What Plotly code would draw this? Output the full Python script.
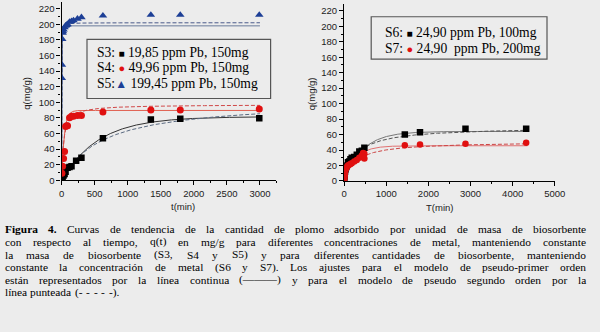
import numpy as np
import plotly.graph_objects as go

# ---------------- data ----------------
# Left panel: q(mg/g) vs t(min)
S3_t = [5, 15, 30, 45, 60, 90, 120, 150, 220, 300, 625, 1350, 1795, 2990]
S3_q = [1, 3, 6, 8, 11, 16, 17, 18, 25, 29, 54, 78, 79, 79.5]
S4_t = [5, 15, 30, 45, 60, 75, 90, 120, 150, 180, 240, 300, 625, 1350, 1795, 2990]
S4_q = [9, 18, 28, 37, 69, 70, 70, 80, 82, 82, 83, 83, 87.5, 90, 90, 91.5]
S5_t = [3, 5, 10, 15, 20, 30, 45, 60, 75, 90, 120, 150, 180, 240, 300, 625, 1350, 1795, 2990]
S5_q = [131, 148, 181, 189, 191, 193, 196, 198, 199, 200, 203, 204, 205, 207, 209, 211, 212, 212, 212]

# Right panel: q(mg/g) vs T(min)
S6_t = [5, 10, 15, 20, 30, 45, 60, 90, 120, 150, 180, 240, 300, 360, 420, 480, 1440, 1800, 2880, 4320]
S6_q = [3, 6, 9, 12, 15, 18, 20, 24, 25, 28, 30, 31, 34, 38, 39, 43, 60, 63, 67.5, 67.5]
S7_t = [5, 10, 15, 20, 30, 45, 60, 90, 120, 150, 180, 240, 300, 360, 420, 450, 480, 480, 1440, 1800, 2880, 4320]
S7_q = [2, 5, 8, 11, 14, 16, 18, 20, 21, 22, 23, 25, 27, 30, 33, 36, 35, 29, 46, 47, 48, 49.3]

# Kinetic fit parameters: [qe_pfo, k1, qe_pso, k2]
S3_fit = [81.5, 0.0018, 103, 1.56e-5]
S4_fit = [89.5, 0.025, 97, 3.4e-4]
S5_fit = [198, 0.3, 202, 0.0078]
S6_fit = [64, 0.00227, 70, 4.77e-5]
S7_fit = [45.5, 0.00375, 51, 7.25e-5]

left_x_ticks = [0, 500, 1000, 1500, 2000, 2500, 3000]
right_x_ticks = [0, 1000, 2000, 3000, 4000, 5000]
y_ticks = list(range(0, 221, 20))

legend_left = ["S3: ", "19,85 ppm Pb, 150mg", "S4: ", "49,96 ppm Pb, 150mg", "S5:", "199,45 ppm Pb, 150mg"]
legend_right = ["S6: ", "24,90 ppm Pb, 100mg", "S7: ", "24,90\u00a0 ppm Pb, 200mg"]

caption_lines = [
    "Figura 4. Curvas de tendencia de la cantidad de plomo adsorbido por unidad de masa de biosorbente",
    "con respecto al tiempo, q(t) en mg/g para diferentes concentraciones de metal, manteniendo constante",
    "la masa de biosorbente (S3, S4 y S5) y para diferentes cantidades de biosorbente, manteniendo",
    "constante la concentración de metal (S6 y S7). Los ajustes para el modelo de pseudo-primer orden",
    "están representados por la línea continua (———) y para el modelo de pseudo segundo orden por la",
    "línea punteada (- - - - -).",
]

# ---------------- helpers ----------------
def pfo(t, qe, k):
    return qe * (1 - np.exp(-k * t))

def pso(t, qe, k):
    return qe * qe * k * t / (1 + qe * k * t)

W, H = 600, 332
BG = "rgb(236,236,236)"

def px(x):
    return x / W

def py(y):
    return 1 - y / H

fig = go.Figure()

def add_fits(params, tmax, xa, ya, c_solid, c_dash):
    t = np.concatenate([np.linspace(0, 60, 300), np.linspace(60, tmax, 500)])
    fig.add_trace(go.Scatter(x=t, y=pfo(t, params[0], params[1]), mode="lines",
                             line=dict(color=c_solid, width=1), xaxis=xa, yaxis=ya,
                             showlegend=False, hoverinfo="skip"))
    fig.add_trace(go.Scatter(x=t, y=pso(t, params[2], params[3]), mode="lines",
                             line=dict(color=c_dash, width=1, dash="4px,2px"), xaxis=xa, yaxis=ya,
                             showlegend=False, hoverinfo="skip"))

BLACK = "#000000"
RED = "#e01010"
BLUE = "#1d3f96"

add_fits(S3_fit, 3000, "x", "y", "#333333", "#5a6a80")
add_fits(S4_fit, 3000, "x", "y", "#e06050", "#d04848")
add_fits(S5_fit, 3000, "x", "y", "#6a7a9a", "#4a5a8a")
add_fits(S6_fit, 4350, "x2", "y2", "#777777", "#555555")
add_fits(S7_fit, 4350, "x2", "y2", "#e07070", "#cc4444")

def add_pts(t, q, xa, ya, color, symbol, size):
    fig.add_trace(go.Scatter(x=t, y=q, mode="markers", xaxis=xa, yaxis=ya,
                             marker=dict(color=color, symbol=symbol, size=size, line=dict(width=0)),
                             showlegend=False))

add_pts(S3_t, S3_q, "x", "y", BLACK, "square", 6.5)
add_pts(S4_t, S4_q, "x", "y", RED, "circle", 7)
add_pts(S5_t, S5_q, "x", "y", BLUE, "triangle-up", 7.5)
add_pts(S6_t, S6_q, "x2", "y2", BLACK, "square", 6.5)
add_pts(S7_t, S7_q, "x2", "y2", RED, "circle", 6.5)

tickfont = dict(family="Liberation Sans, Arial, sans-serif", size=9.5, color="#222222")

def axis(domain, rng, minor_dtick, tickvals):
    return dict(domain=domain, range=rng, showline=True, linecolor="black", linewidth=1.3,
                ticks="outside", ticklen=4, tickwidth=1.2, tickcolor="black",
                tickvals=tickvals, ticktext=[str(v) for v in tickvals],
                minor=dict(dtick=minor_dtick, tick0=0, ticks="outside", ticklen=2, tickwidth=1, tickcolor="black"),
                showgrid=False, zeroline=False, tickfont=tickfont, fixedrange=True)

fig.update_layout(
    width=W, height=H, autosize=False,
    margin=dict(l=0, r=0, t=0, b=0),
    paper_bgcolor=BG, plot_bgcolor=BG,
    xaxis=dict(**axis([px(60), px(280)], [0, 3250], 250, left_x_ticks), anchor="y"),
    yaxis=dict(**axis([py(183), py(1.7)], [0, 229], 10, y_ticks), anchor="x"),
    xaxis2=dict(**axis([px(349.3), px(565)], [0, 5000], 500, right_x_ticks), anchor="y2"),
    yaxis2=dict(**axis([py(183.7), py(3.9)], [0, 229], 10, y_ticks), anchor="x2"),
)

ann = []
titlefont = dict(family="Liberation Sans, Arial, sans-serif", size=9.5, color="#222222")
ann.append(dict(text="q(mg/g)", x=px(16), y=py(95), textangle=-90, font=titlefont))
ann.append(dict(text="q(mg/g)", x=px(316), y=py(95), textangle=-90, font=titlefont))
ann.append(dict(text="t(min)", x=px(170), y=py(210), font=titlefont))
ann.append(dict(text="T(min)", x=px(463), y=py(211), font=titlefont))

# legend boxes
shapes = [
    dict(type="rect", xref="paper", yref="paper", x0=px(86), x1=px(274), y0=py(100), y1=py(40),
         line=dict(color="#555555", width=1.2), fillcolor=BG, layer="above"),
    dict(type="rect", xref="paper", yref="paper", x0=px(377), x1=px(557), y0=py(60), y1=py(17),
         line=dict(color="#555555", width=1.2), fillcolor=BG, layer="above"),
]
SERIF = "Liberation Serif, Times New Roman, serif"
legfont = dict(family=SERIF, size=13.6, color="black")

def sym(ch, color, size):
    return f"<span style='color:{color};font-size:{size}px'>{ch}</span>"

left_syms = [sym("■", BLACK, 10), sym("●", RED, 11), sym("▲", BLUE, 12)]
for i, yy in enumerate([52.8, 69.0, 84.8]):
    ann.append(dict(text=legend_left[2 * i] + left_syms[i] + " " + legend_left[2 * i + 1],
                    x=px(96), y=py(yy), xanchor="left", font=legfont, borderpad=0, borderwidth=0))
right_syms = [sym("■", BLACK, 10), sym("●", RED, 11)]
for i, yy in enumerate([32.5, 49.0]):
    ann.append(dict(text=legend_right[2 * i] + right_syms[i] + " " + legend_right[2 * i + 1],
                    x=px(391), y=py(yy), xanchor="left", font=legfont, borderpad=0, borderwidth=0))

# ---------------- justified caption (word by word) ----------------
reg = {' ': 250, '(': 333, ')': 333, ',': 250, '-': 333, '.': 250, '/': 278, ':': 278, '—': 1000,
       'A': 722, 'B': 667, 'C': 667, 'D': 722, 'E': 611, 'F': 556, 'G': 722, 'H': 722, 'I': 333, 'J': 389,
       'K': 722, 'L': 611, 'M': 889, 'N': 722, 'O': 722, 'P': 556, 'Q': 722, 'R': 667, 'S': 556, 'T': 611,
       'U': 722, 'V': 722, 'W': 944, 'X': 722, 'Y': 722, 'Z': 611,
       'a': 444, 'b': 500, 'c': 444, 'd': 500, 'e': 444, 'f': 333, 'g': 500, 'h': 500, 'i': 278, 'j': 278,
       'k': 500, 'l': 278, 'm': 778, 'n': 500, 'o': 500, 'p': 500, 'q': 500, 'r': 333, 's': 389, 't': 278,
       'u': 500, 'v': 500, 'w': 722, 'x': 500, 'y': 500, 'z': 444,
       'á': 444, 'é': 444, 'í': 278, 'ó': 500, 'ú': 500, 'ñ': 500}
for d in "0123456789":
    reg[d] = 500
bold = dict(reg)
bold.update({'F': 611, 'i': 278, 'g': 500, 'u': 556, 'r': 444, 'a': 500, '4': 500, '.': 250})

cap_fs = 11.4
capfont = dict(family=SERIF, size=cap_fs, color="black")
X0, X1 = 1.7, 597.0
line_y = [233.0, 245.7, 258.4, 271.1, 283.8, 296.5]

def wwidth(word, table):
    return sum(table.get(c, 500) for c in word) / 1000.0 * cap_fs * 1.02

for li, line in enumerate(caption_lines):
    words = line.split(" ")
    isbold = [li == 0 and wi < 2 for wi in range(len(words))]
    widths = [wwidth(w, bold if b else reg) for w, b in zip(words, isbold)]
    if li < len(caption_lines) - 1:
        gap = (X1 - X0 - sum(widths)) / (len(words) - 1)
    else:
        gap = 0.33 * cap_fs
    x = X0
    for w, b, wd in zip(words, isbold, widths):
        ann.append(dict(text=f"<b>{w}</b>" if b else w, x=px(x), y=py(line_y[li]),
                        xanchor="left", font=capfont, borderpad=0, borderwidth=0))
        x += wd + gap

for a in ann:
    a.setdefault("xref", "paper")
    a.setdefault("yref", "paper")
    a.setdefault("showarrow", False)
    a.setdefault("yanchor", "middle")

fig.update_layout(annotations=ann, shapes=shapes)
fig.write_html("out.html", config={"displayModeBar": False},
               post_script="document.body.style.margin='0px';document.body.style.overflow='hidden';")
